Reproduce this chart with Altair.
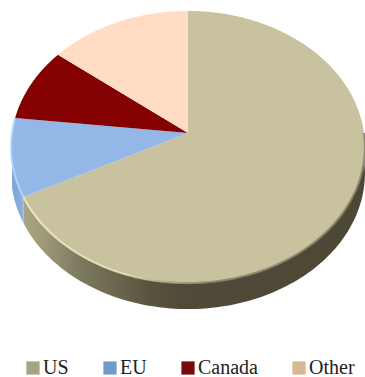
import numpy as np
import pandas as pd
import altair as alt

# Shares of the pie, percent
categories = ["US", "EU", "Canada", "Other"]
shares = [67.5, 9.3, 8.8, 14.4]
top_colors = ["#c9c29e", "#93b7e6", "#850000", "#ffdcc3"]
key_colors = ["#a8a583", "#6f9bcb", "#7a0a0a", "#d9b898"]

# Perspective of the tilted disc
CX, CY = 188.0, 133.0
DEPTH, XF, YF = 9.71, 1709.0, 1307.0
THICK = 26.0


def project(angle, drop=0.0):
    """Map a clockwise pie angle (radians from 12 o'clock) to the drawing plane."""
    sx, cy = np.sin(angle), np.cos(angle)
    k = DEPTH + cy
    return CX + XF * sx / k, CY - YF * cy / k + drop


def wedge(a0, a1):
    t = np.linspace(a0, a1, 90)
    x, y = project(t)
    return np.r_[CX, x, CX], np.r_[CY, y, CY]


def wall(a0, a1):
    t = np.linspace(a0, a1, 120)
    x0, y0 = project(t)
    x1, y1 = project(t[::-1], THICK)
    return np.r_[x0, x1, x0[0]], np.r_[y0, y1, y0[0]]


def rim(a0, a1):
    return project(np.linspace(a0, a1, 120))


edges = np.radians(np.r_[0, np.cumsum(shares)] * 3.6)
edges[-1] = 2 * np.pi


def frame(xy):
    x, y = xy
    return pd.DataFrame({"x": x, "y": y, "i": np.arange(len(x))})


X = alt.X("x:Q", axis=None, scale=alt.Scale(domain=[0, 365], range=[0, 365]))
Y = alt.Y("y:Q", axis=None, scale=alt.Scale(domain=[0, 377], range=[0, 377]))
O = alt.Order("i:Q")


def shape(df, fill):
    return alt.Chart(df).mark_line(fill=fill, stroke=None, clip=False).encode(x=X, y=Y, order=O)


def edge(df, stroke, width):
    return alt.Chart(df).mark_line(stroke=stroke, strokeWidth=width, opacity=0.85, clip=False).encode(x=X, y=Y, order=O)


def hgrad(stops):
    return alt.Gradient(
        gradient="linear", x1=0, x2=1, y1=0, y2=0,
        stops=[alt.GradientStop(offset=o, color=c) for o, c in stops],
    )


layers = []

# Side wall of the disc: the US band turning from lit to shaded, then the EU sliver
layers.append(shape(frame(wall(np.radians(90), edges[1])),
                    hgrad([(0, "#aaa584"), (0.05, "#a09c7b"), (0.16, "#7e7a60"), (0.28, "#69654e"),
                           (0.37, "#57533f"), (0.46, "#4f4b38"), (1, "#4c4835")])))
layers.append(shape(frame(wall(edges[1], np.radians(258))),
                    hgrad([(0, "#7ba3d6"), (1, "#8fb3e0")])))

# Top face
for a0, a1, c in zip(edges[:-1], edges[1:], top_colors):
    layers.append(shape(frame(wedge(a0, a1)), c))

# Bevel along the front rim: a highlight on the left, soft shade on the right
layers.append(edge(frame(rim(np.radians(90), edges[1])),
                   hgrad([(0, "#f0ebc2"), (0.3, "#e6e1b8"), (0.42, "#a8a385"), (0.55, "#8a866d"), (1, "#85816a")]), 2.2))
layers.append(edge(frame(rim(edges[1], edges[2])), "#b4d8fa", 2.0))

# Colour key along the foot of the chart
key = alt.Chart(pd.DataFrame({"name": categories})).mark_square(opacity=0).encode(
    x=alt.value(0), y=alt.value(0),
    color=alt.Color(
        "name:N",
        scale=alt.Scale(domain=categories, range=key_colors),
        sort=categories,
        legend=alt.Legend(
            title=None, orient="none", legendX=23, legendY=358, direction="horizontal",
            columns=4, columnPadding=31, symbolType="square", symbolSize=175,
            symbolOpacity=1, symbolStrokeWidth=0, labelFont="Liberation Serif",
            labelFontSize=20, labelColor="#222222", labelOffset=0, padding=0,
        ),
    ),
)
layers.append(key)

chart = alt.layer(*layers).properties(
    width=365, height=377, padding=0, autosize=alt.AutoSizeParams(type="none"),
    background="white",
).configure_view(stroke=None)

chart.save("out.html", embed_options={"renderer": "svg", "actions": False})
